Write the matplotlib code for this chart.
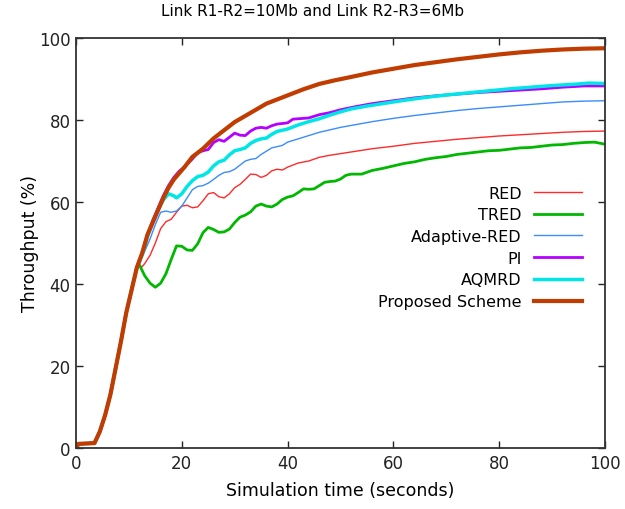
import matplotlib
matplotlib.use("Agg")
import matplotlib.pyplot as plt

# shared start-up ramp (all schemes identical until ~12 s)
ramp_t = [0, 0.5, 3.5, 4.5, 5.5, 6.5, 7.5, 8.5, 9.5, 10.5, 11.5]
ramp_y = [0, 1, 1.2, 4, 8, 13, 19.5, 26, 33, 38.5, 44]

red_t = [12, 12.5, 13, 14, 15, 16, 17, 18, 19, 20, 21, 22, 23, 24, 25, 26, 27, 28, 29, 30,
         31, 32, 33, 34, 35, 36, 37, 38, 39, 40, 42, 44, 46, 48, 50, 53, 56, 60, 64, 68,
         72, 76, 80, 84, 88, 92, 96, 100]
red_y = [44.5, 44.2, 45, 47, 50, 53.5, 55.2, 55.8, 57.5, 59, 59.2, 58.6, 58.8, 60.3, 62, 62.3,
         61.3, 61, 62, 63.5, 64.3, 65.5, 66.8, 66.7, 66, 66.5, 67.6, 68, 67.8, 68.5, 69.5, 70,
         70.9, 71.4, 71.8, 72.4, 73, 73.6, 74.3, 74.8, 75.3, 75.7, 76.1, 76.4, 76.7, 77, 77.2, 77.3]

tred_t = [12, 13, 14, 15, 16, 17, 18, 19, 20, 21, 22, 23, 24, 25, 26, 27, 28, 29, 30, 31,
          32, 33, 34, 35, 36, 37, 38, 39, 40, 41, 42, 43, 44, 45, 46, 47, 48, 49, 50, 51,
          52, 54, 56, 58, 60, 62, 64, 66, 68, 70, 72, 74, 76, 78, 80, 82, 84, 86, 88, 90,
          92, 94, 96, 98, 100]
tred_y = [44.6, 42, 40.2, 39.2, 40.2, 42.5, 46, 49.3, 49.2, 48.3, 48.2, 49.8, 52.5, 53.8, 53.3,
          52.6, 52.7, 53.4, 55, 56.3, 56.8, 57.6, 59, 59.5, 59, 58.8, 59.5, 60.6, 61.2, 61.5,
          62.3, 63.2, 63.1, 63.2, 64, 64.8, 65, 65.1, 65.6, 66.5, 66.8, 66.8, 67.7, 68.2, 68.8,
          69.4, 69.8, 70.4, 70.8, 71.1, 71.6, 71.9, 72.2, 72.5, 72.6, 72.9, 73.2, 73.3, 73.6,
          73.9, 74, 74.3, 74.5, 74.6, 74.1]

ared_t = [12, 13, 14, 15, 16, 17, 18, 19, 20, 21, 22, 23, 24, 25, 26, 27, 28, 29, 30, 31,
          32, 33, 34, 35, 36, 37, 38, 39, 40, 42, 44, 46, 48, 50, 53, 56, 60, 64, 68, 72,
          76, 80, 84, 88, 92, 96, 100]
ared_y = [45.5, 48, 51, 54.5, 57.5, 57.8, 57.5, 57.8, 59, 61, 63, 63.8, 64, 64.6, 65.5, 66.5,
          67.2, 67.4, 68, 69, 70, 70.4, 70.6, 71.6, 72.4, 73.2, 73.5, 73.8, 74.6, 75.4, 76.2,
          77, 77.6, 78.2, 78.9, 79.6, 80.4, 81.1, 81.7, 82.3, 82.8, 83.2, 83.6, 84, 84.4, 84.6, 84.7]

pi_t = [12.5, 13.5, 14.5, 15.5, 16.5, 17.5, 18.5, 19.5, 20.5, 22, 23, 24, 25, 26, 27, 28, 29,
        30, 31, 32, 33, 34, 35, 36, 37, 38, 40, 41, 42, 44, 46, 48, 50, 53, 56, 60, 64, 68,
        72, 76, 80, 84, 88, 92, 96, 100]
pi_y = [47.5, 52, 55.5, 58.5, 61.5, 64, 66, 67.5, 68.5, 70.5, 72, 72.5, 72.8, 74.5, 75.2, 74.8,
        75.8, 76.8, 76.3, 76.2, 77.3, 78, 78.2, 78, 78.6, 79, 79.3, 80.2, 80.3, 80.5, 81.3, 81.8,
        82.5, 83.3, 84, 84.7, 85.4, 85.9, 86.3, 86.7, 87, 87.3, 87.6, 88, 88.3, 88.3]

aqmrd_t = [12.5, 13.5, 14.5, 15.5, 16.5, 17.5, 18.5, 19, 20, 21, 22, 23, 24, 25, 26, 27, 28,
           29, 30, 31, 32, 33, 34, 35, 36, 37, 38, 39, 40, 42, 44, 46, 48, 50, 52, 55, 58, 62,
           66, 70, 74, 78, 82, 86, 90, 94, 97, 100]
aqmrd_y = [47, 51.5, 55, 58, 60.5, 62, 61.5, 61, 62, 63.8, 65.2, 66.2, 66.5, 67.3, 68.8, 69.8,
           70.2, 71.5, 72.5, 72.8, 73.2, 74.3, 75, 75.4, 75.6, 76.5, 77.2, 77.5, 77.8, 78.8, 79.6,
           80.3, 81.2, 82, 82.7, 83.4, 84, 84.8, 85.5, 86.1, 86.6, 87.1, 87.6, 88, 88.4, 88.7, 89, 88.9]

prop_t = [12.5, 13.5, 14.5, 15.5, 16.5, 17.5, 18.5, 19.5, 20.5, 22, 24, 26, 28, 30, 32, 34, 36,
          38, 40, 43, 46, 49, 52, 56, 60, 64, 68, 72, 76, 80, 84, 88, 92, 96, 100]
prop_y = [47.5, 52, 55, 58, 61, 63.5, 65.5, 67, 68.5, 71, 73, 75.5, 77.5, 79.5, 81, 82.5, 84,
          85, 86, 87.5, 88.8, 89.7, 90.5, 91.6, 92.5, 93.4, 94.1, 94.8, 95.4, 96, 96.5, 96.9,
          97.2, 97.4, 97.5]

series = [
    ("RED", red_t, red_y, "#ff2a2a", 1.0),
    ("TRED", tred_t, tred_y, "#00b800", 2.0),
    ("Adaptive-RED", ared_t, ared_y, "#3a8cff", 1.0),
    ("PI", pi_t, pi_y, "#b400ff", 2.0),
    ("AQMRD", aqmrd_t, aqmrd_y, "#00e6e6", 2.5),
    ("Proposed Scheme", prop_t, prop_y, "#c03c00", 3.0),
]

fig = plt.figure(figsize=(6.25, 5.1), dpi=100)
ax = fig.add_axes([76 / 625, 61 / 510, 529 / 625, 410 / 510])

for name, t, y, color, lw in series:
    ax.plot(ramp_t + t, ramp_y + y, color=color, lw=lw, label=name)

ax.set_xlim(0, 100)
ax.set_ylim(0, 100)
ax.set_xticks(range(0, 101, 20))
ax.set_yticks(range(0, 101, 20))
ax.tick_params(direction="in", length=5, width=1, top=True, right=True,
               labelsize=12, colors="#222222", pad=4)
for sp in ax.spines.values():
    sp.set_color("#333333")
    sp.set_linewidth(1.3)

ax.set_xlabel("Simulation time (seconds)", fontsize=12.5, labelpad=7)
ax.set_ylabel("Throughput (%)", fontsize=12.5, labelpad=0)
fig.suptitle("Link R1-R2=10Mb and Link R2-R3=6Mb", fontsize=11, x=0.5, y=0.993, va="top")

ax.legend(loc="upper right", bbox_to_anchor=(0.957, 0.64), frameon=False,
          markerfirst=False, fontsize=11.5, handlelength=3.0, handletextpad=0.8,
          labelspacing=0.42, borderpad=0, borderaxespad=0)

fig.savefig("out.png", dpi=100)
